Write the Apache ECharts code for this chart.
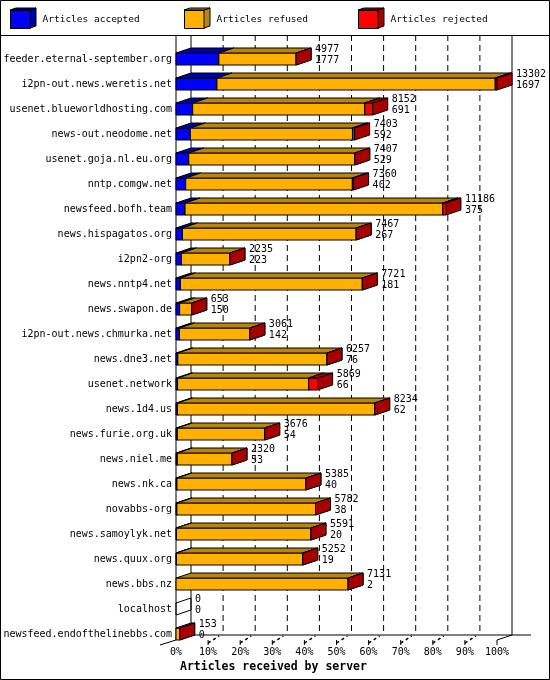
<!DOCTYPE html>
<html>
<head>
<meta charset="utf-8">
<script src="https://cdn.jsdelivr.net/npm/echarts@6/dist/echarts.min.js"></script>
<style>
html,body{margin:0;padding:0;background:#fff;}
#chart{width:550px;height:680px;}
</style>
</head>
<body>
<div id="chart"></div>
<script>
// ---- data ----
const categories = [
  'feeder.eternal-september.org', 'i2pn-out.news.weretis.net', 'usenet.blueworldhosting.com',
  'news-out.neodome.net', 'usenet.goja.nl.eu.org', 'nntp.comgw.net', 'newsfeed.bofh.team',
  'news.hispagatos.org', 'i2pn2-org', 'news.nntp4.net', 'news.swapon.de',
  'i2pn-out.news.chmurka.net', 'news.dne3.net', 'usenet.network', 'news.1d4.us',
  'news.furie.org.uk', 'news.niel.me', 'news.nk.ca', 'novabbs-org', 'news.samoylyk.net',
  'news.quux.org', 'news.bbs.nz', 'localhost', 'newsfeed.endofthelinebbs.com'
];
const totalArticles    = [4977, 13302, 8152, 7403, 7407, 7360, 11186, 7467, 2235, 7721, 653, 3061, 6257, 5869, 8234, 3676, 2320, 5385, 5782, 5591, 5252, 7131, 0, 153];
const acceptedArticles = [1777, 1697, 691, 592, 529, 402, 375, 267, 223, 181, 150, 142, 76, 66, 62, 54, 53, 40, 38, 20, 19, 2, 0, 0];
const refusedArticles  = [3200, 11535, 7131, 6721, 6878, 6908, 10681, 7200, 2012, 7540, 503, 2919, 6181, 5433, 8172, 3622, 2267, 5345, 5744, 5571, 5233, 7129, 0, 153];
const rejectedArticles = [0, 70, 330, 90, 0, 50, 130, 0, 0, 0, 0, 0, 0, 370, 0, 0, 0, 0, 0, 0, 0, 0, 0, 0];
const xTickPercents = [0, 10, 20, 30, 40, 50, 60, 70, 80, 90, 100];
const seriesNames = ['Articles accepted', 'Articles refused', 'Articles rejected'];

// ---- styling ----
const FONT = '"DejaVu Sans Mono", "Liberation Mono", monospace';
const COLORS = [
  { front: '#0000FF', dark: '#0000A8' },
  { front: '#FFB000', dark: '#B8860B' },
  { front: '#FF0000', dark: '#A80000' }
];
const DX = 15, DY = 5, H = 6;

const maxTotal = Math.max(...totalArticles);
const pct = v => v / maxTotal * 100;

const accData = [], refData = [], rejData = [];
categories.forEach((c, i) => {
  const a = pct(acceptedArticles[i]);
  const r = pct(refusedArticles[i]);
  const j = pct(rejectedArticles[i]);
  accData.push([i, 0, a]);
  refData.push([i, a, a + r]);
  rejData.push([i, a + r, a + r + j, totalArticles[i], acceptedArticles[i]]);
});

function boxRenderer(colorIdx, isLast) {
  return function (params, api) {
    const cat = api.value(0);
    const s = api.coord([api.value(1), cat]);
    const e = api.coord([api.value(2), cat]);
    const cy = s[1], x0 = s[0], x1 = e[0];
    const col = COLORS[colorIdx];
    const children = [];
    const w = x1 - x0;
    if (w > 0.05) {
      children.push({
        type: 'rect',
        shape: { x: x0, y: cy - H, width: w, height: 2 * H },
        style: { fill: col.front, stroke: '#000', lineWidth: 1 }
      });
      children.push({
        type: 'polygon',
        shape: { points: [[x0, cy - H], [x1, cy - H], [x1 + DX, cy - H - DY], [x0 + DX, cy - H - DY]] },
        style: { fill: col.dark, stroke: '#000', lineWidth: 1 }
      });
    }
    if (w > 0.05 || isLast) {
      const total = isLast ? api.value(3) : 1;
      children.push({
        type: 'polygon',
        shape: { points: [[x1, cy - H], [x1 + DX, cy - H - DY], [x1 + DX, cy + H - DY], [x1, cy + H]] },
        style: { fill: total === 0 ? 'none' : col.dark, stroke: '#000', lineWidth: 1 }
      });
    }
    if (isLast) {
      const tx = x1 + DX + 4;
      children.push({
        type: 'text',
        style: { text: String(api.value(3)), x: tx, y: cy - 9.5, fill: '#000', font: '10px ' + FONT, verticalAlign: 'middle', align: 'left' }
      });
      children.push({
        type: 'text',
        style: { text: String(api.value(4)), x: tx, y: cy + 1.5, fill: '#000', font: '10px ' + FONT, verticalAlign: 'middle', align: 'left' }
      });
    }
    return { type: 'group', children: children };
  };
}

function frameRenderer(params, api) {
  const n = categories.length;
  const first = api.coord([0, 0]);
  const last = api.coord([0, n - 1]);
  const floor = last[1] + H;
  const x0 = first[0];
  const x100 = api.coord([100, 0])[0];
  const top = 35;
  const L = (a, b, dash, w) => ({
    type: 'line',
    shape: { x1: a[0], y1: a[1], x2: b[0], y2: b[1] },
    style: { stroke: '#000', lineWidth: w || 1, lineDash: dash || null }
  });
  const ch = [];
  xTickPercents.forEach(p => {
    if (p > 0 && p < 100) {
      const xb = api.coord([p, 0])[0] + DX;
      ch.push(L([xb, top], [xb, floor - DY], [6, 4]));
    }
  });
  ch.push(L([x0, top], [x0, floor]));
  ch.push(L([x0 - 16, floor + 5], [x0, floor]));
  ch.push(L([x0 + DX, top], [x0 + DX, floor - DY]));
  ch.push(L([x100 + DX, top], [x100 + DX, floor - DY]));
  ch.push(L([x0 + DX, floor - DY], [x100 + DX + 19, floor - DY]));
  ch.push(L([x100, floor], [x100 + DX, floor - DY]));
  xTickPercents.forEach(p => {
    if (p > 0) {
      const xf = api.coord([p, 0])[0];
      ch.push(L([xf, floor], [xf, floor + 5]));
      if (p < 100) ch.push(L([xf, floor + 3], [xf + 11, floor - 4], [3, 3], 1.5));
    }
  });
  return { type: 'group', children: ch };
}

const legendBase = (name, left) => ({
  data: [name], left: left, top: 10, padding: 0,
  itemWidth: 20, itemHeight: 18, icon: 'rect', selectedMode: false,
  itemStyle: { borderColor: '#000', borderWidth: 1 },
  textStyle: { fontFamily: FONT, fontSize: 9.5, color: '#000', padding: [1, 0, 0, 7] }
});
const legendLefts = [10, 184, 358];

const graphics = [
  { type: 'rect', shape: { x: 0.5, y: 0.5, width: 549, height: 679 }, style: { fill: 'none', stroke: '#000', lineWidth: 1 }, z: 100 },
  { type: 'line', shape: { x1: 0, y1: 35.5, x2: 550, y2: 35.5 }, style: { stroke: '#000', lineWidth: 1 }, z: 100 },
  { type: 'text', style: { text: 'Articles received by server', x: 180, y: 667, font: 'bold 11.5px ' + FONT, fill: '#000', verticalAlign: 'middle' }, z: 100 }
];
legendLefts.forEach((lx, k) => {
  graphics.push({ type: 'polygon', shape: { points: [[lx + 20, 10], [lx + 26, 8], [lx + 26, 26], [lx + 20, 28]] }, style: { fill: COLORS[k].dark, stroke: '#000', lineWidth: 1 }, z: 100 });
  graphics.push({ type: 'polygon', shape: { points: [[lx, 10], [lx + 6, 8], [lx + 26, 8], [lx + 20, 10]] }, style: { fill: COLORS[k].dark, stroke: '#000', lineWidth: 1 }, z: 100 });
});

const chart = echarts.init(document.getElementById('chart'), null, { renderer: 'canvas' });
chart.setOption({
  backgroundColor: '#fff',
  animation: false,
  legend: seriesNames.map((n, k) => legendBase(n, legendLefts[k])),
  grid: { left: 176, width: 321, top: 46.5, height: 600 },
  xAxis: {
    type: 'value', min: 0, max: 100, interval: 10,
    axisLine: { show: false }, axisTick: { show: false }, splitLine: { show: false },
    axisLabel: { margin: 1, fontFamily: FONT, fontSize: 10, color: '#000', formatter: v => v + '%' }
  },
  yAxis: {
    type: 'category', data: categories, inverse: true,
    axisLine: { show: false }, axisTick: { show: false }, splitLine: { show: false },
    axisLabel: { margin: 4, fontFamily: FONT, fontSize: 10, color: '#000', interval: 0 }
  },
  graphic: graphics,
  series: [
    { type: 'custom', name: 'frame', renderItem: frameRenderer, data: [[0, 0]], encode: { x: 0, y: 1 }, z: 1, silent: true },
    { type: 'custom', name: seriesNames[0], renderItem: boxRenderer(0, false), data: accData, encode: { x: [1, 2], y: 0 }, itemStyle: { color: COLORS[0].front }, z: 2 },
    { type: 'custom', name: seriesNames[1], renderItem: boxRenderer(1, false), data: refData, encode: { x: [1, 2], y: 0 }, itemStyle: { color: COLORS[1].front }, z: 3 },
    { type: 'custom', name: seriesNames[2], renderItem: boxRenderer(2, true), data: rejData, encode: { x: [1, 2], y: 0 }, itemStyle: { color: COLORS[2].front }, z: 4 }
  ]
});
</script>
</body>
</html>
